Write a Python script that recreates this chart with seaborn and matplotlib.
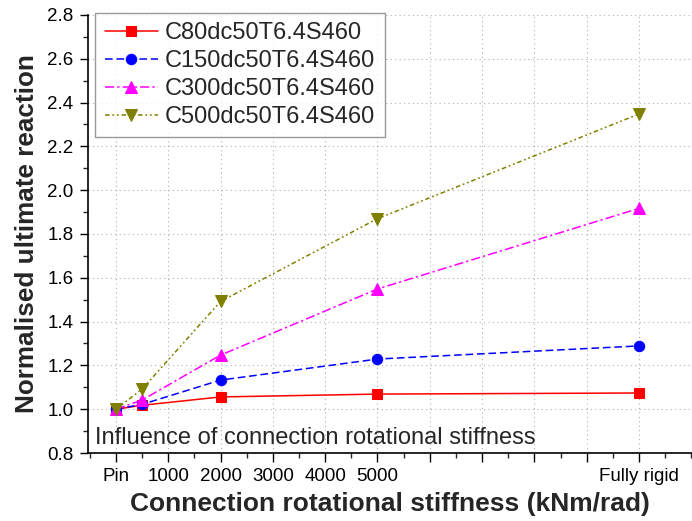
import matplotlib
matplotlib.use("Agg")
import matplotlib.pyplot as plt
import seaborn as sns
import pandas as pd
from matplotlib.ticker import MultipleLocator, FixedLocator, FormatStrFormatter

stiffness = [0, 500, 2000, 5000, 10000]
c80 = [1.0, 1.018, 1.056, 1.069, 1.074]
c150 = [1.0, 1.022, 1.133, 1.229, 1.289]
c300 = [1.0, 1.042, 1.247, 1.549, 1.917]
c500 = [1.0, 1.092, 1.492, 1.870, 2.348]
series_names = ["C80dc50T6.4S460", "C150dc50T6.4S460", "C300dc50T6.4S460", "C500dc50T6.4S460"]
x_ticks = [0, 1000, 2000, 3000, 4000, 5000, 6000, 7000, 8000, 9000, 10000]
x_tick_labels = ["Pin", "1000", "2000", "3000", "4000", "5000", "", "", "", "", "Fully rigid"]

sns.set_style("ticks")
plt.rcParams['font.family'] = ['Liberation Sans', 'DejaVu Sans']

fig = plt.figure(figsize=(6.92, 5.21), dpi=100)
ax = fig.add_axes([88 / 692, 1 - 453 / 521, 1 - 88 / 692, 438 / 521])

styles = [
    dict(color="#FF0000", marker="s", ls="-", ms=6.5),
    dict(color="#0000FF", marker="o", ls=(0, (5, 2.5)), ms=7.5),
    dict(color="#FF00FF", marker="^", ls=(0, (6, 2, 1.5, 2)), ms=8.5),
    dict(color="#808000", marker="v", ls=(0, (3, 1.8, 1.2, 1.8, 1.2, 1.8)), ms=8.5),
]
for name, vals, st in zip(series_names, [c80, c150, c300, c500], styles):
    df = pd.DataFrame({"x": stiffness, "y": vals})
    sns.lineplot(data=df, x="x", y="y", ax=ax, color=st["color"], marker=st["marker"],
                 linestyle=st["ls"], markersize=st["ms"], markeredgecolor=st["color"],
                 linewidth=1.1, label=name)

ax.set_xlim(-535, 11013)
ax.set_ylim(0.8, 2.8)
ax.xaxis.set_major_locator(FixedLocator(x_ticks))
ax.set_xticklabels(x_tick_labels)
ax.xaxis.set_minor_locator(MultipleLocator(500))
ax.yaxis.set_major_locator(MultipleLocator(0.2))
ax.yaxis.set_minor_locator(MultipleLocator(0.1))
ax.yaxis.set_major_formatter(FormatStrFormatter("%.1f"))
ax.grid(True, which="major", linestyle=(0, (1, 3)), color="#b0b0b0", linewidth=0.8)
ax.tick_params(axis="x", which="major", direction="out", length=6.5, width=1, labelsize=13.5,
               colors="black", pad=4.5)
ax.tick_params(axis="y", which="major", direction="out", length=6, width=1, labelsize=13.5,
               colors="black", pad=4.5)
ax.tick_params(axis="both", which="minor", direction="out", length=3.5, width=1)
for s in ["top", "right"]:
    ax.spines[s].set_visible(False)
for s in ["left", "bottom"]:
    ax.spines[s].set_linewidth(1.2)
    ax.spines[s].set_color("black")

ax.set_xlabel("Connection rotational stiffness (kNm/rad)", fontsize=19, fontweight="bold", labelpad=4.5)
ax.set_ylabel("Normalised ultimate reaction", fontsize=18.8, fontweight="bold", labelpad=6)

leg = ax.legend(loc="upper left", fontsize=17, frameon=True, fancybox=False, edgecolor="#808080",
                handlelength=2.25, borderpad=0.4, labelspacing=0.25, handletextpad=0.3,
                bbox_to_anchor=(0.012, 1.005), borderaxespad=0.0)
leg.get_frame().set_linewidth(1.0)

ax.text(0.012, 0.008, "Influence of connection rotational stiffness", transform=ax.transAxes,
        fontsize=17, ha="left", va="bottom")

fig.savefig("out.png", dpi=100)
